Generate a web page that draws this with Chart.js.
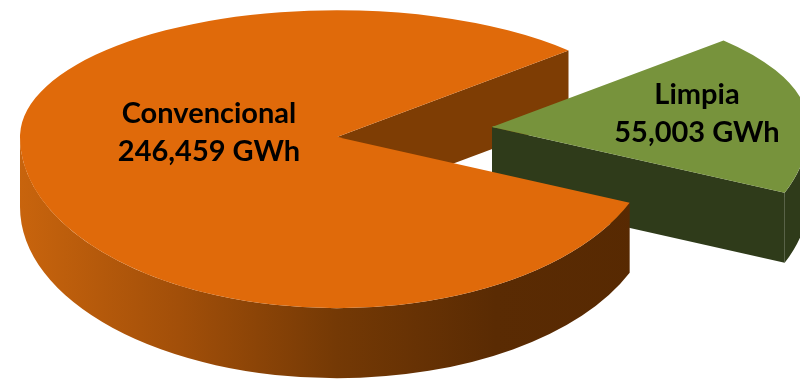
<!DOCTYPE html>
<html>
<head>
<meta charset="utf-8">
<script src="https://cdn.jsdelivr.net/npm/chart.js@4.4.1/dist/chart.umd.min.js"></script>
<style>
  html, body { margin: 0; padding: 0; background: #fff; }
  canvas { display: block; }
</style>
</head>
<body>
<canvas id="pie" width="800" height="379"></canvas>
<script>
// data
const categories = ['Convencional', 'Limpia'];
const generation = [246459, 55003];
const unit = 'GWh';

// look
const topColors  = ['#E06A0A', '#77933C'];
const cutColors  = ['#7E3D04', '#2F3B1A'];
const wallColors = [
  ['#C8640D', '#A24F09', '#743905', '#5A2B03', '#572902'],
  ['#2F3B1A', '#2F3B1A']
];
const explode = [[0, 0], [155, -10]];        // screen px shift of each slice
const labelAnchors = [[209, 123], [697, 104]];
const lineGap = 38;

// fake 3d: far half squashed more than near half
const R = 317, kTop = 0.40, kBot = 0.54, depth = 70;

function project(cx, cy, a, r){
  var sx = Math.cos(a) * r, sy = Math.sin(a) * r;
  return [cx + sx, cy + sy * (sy < 0 ? kTop : kBot)];
}

function center(arc, i){
  return [arc.x + explode[i][0], arc.y + explode[i][1]];
}

function drawCutFaces(ctx, arc, i){
  var c = center(arc, i), cx = c[0], cy = c[1];
  var faces = [];
  if (Math.cos(arc.endAngle) > 0) faces.push(arc.endAngle);
  if (Math.cos(arc.startAngle) < 0) faces.push(arc.startAngle);
  faces.forEach(function(a){
    var p = project(cx, cy, a, arc.outerRadius);
    ctx.beginPath();
    ctx.moveTo(cx, cy);
    ctx.lineTo(p[0], p[1]);
    ctx.lineTo(p[0], p[1] + depth);
    ctx.lineTo(cx, cy + depth);
    ctx.closePath();
    ctx.fillStyle = cutColors[i];
    ctx.fill();
  });
}

function drawOuterWall(ctx, arc, i){
  var c = center(arc, i), cx = c[0], cy = c[1], r = arc.outerRadius;
  var g = ctx.createLinearGradient(cx - r, 0, cx + r, 0);
  var stops = wallColors[i];
  stops.forEach(function(col, j){ g.addColorStop(j / (stops.length - 1), col); });
  [0, Math.PI * 2].forEach(function(base){
    var lo = Math.max(arc.startAngle, base);
    var hi = Math.min(arc.endAngle, base + Math.PI);
    if (hi <= lo) return;
    ctx.beginPath();
    ctx.ellipse(cx, cy, r, r * kBot, 0, lo - base, hi - base, false);
    ctx.ellipse(cx, cy + depth, r, r * kBot, 0, hi - base, lo - base, true);
    ctx.closePath();
    ctx.fillStyle = g;
    ctx.fill();
  });
}

function drawTop(ctx, arc, i){
  var cy = arc.y, cx = arc.x;
  [[kTop, -2000, cy + 1], [kBot, cy - 1, 2000]].forEach(function(h){
    ctx.save();
    ctx.translate(explode[i][0], explode[i][1]);
    ctx.beginPath();
    ctx.rect(-1000, h[1], 3000, h[2] - h[1]);
    ctx.clip();
    ctx.translate(cx, cy);
    ctx.scale(1, h[0]);
    ctx.translate(-cx, -cy);
    arc.draw(ctx);
    ctx.restore();
  });
}

const pie3d = {
  id: 'pie3d',
  beforeDatasetsDraw(chart){
    var ctx = chart.ctx;
    var arcs = chart.getDatasetMeta(0).data;
    // back to front
    drawCutFaces(ctx, arcs[0], 0);
    drawCutFaces(ctx, arcs[1], 1);
    drawOuterWall(ctx, arcs[1], 1);
    drawTop(ctx, arcs[1], 1);
    drawOuterWall(ctx, arcs[0], 0);
    drawTop(ctx, arcs[0], 0);
    return false;
  },
  afterDraw(chart){
    var ctx = chart.ctx;
    ctx.save();
    ctx.font = 'bold 29px Lato';
    ctx.fillStyle = '#000';
    ctx.textAlign = 'center';
    ctx.textBaseline = 'alphabetic';
    labelAnchors.forEach(function(p, i){
      ctx.fillText(categories[i], p[0], p[1]);
      ctx.fillText(generation[i].toLocaleString('en-US') + ' ' + unit, p[0], p[1] + lineGap);
    });
    ctx.restore();
  }
};

new Chart(document.getElementById('pie'), {
  type: 'pie',
  data: {
    labels: categories,
    datasets: [{
      data: generation,
      backgroundColor: topColors,
      borderWidth: 0
    }]
  },
  options: {
    responsive: false,
    animation: false,
    events: [],
    radius: R,
    rotation: 112.6,
    layout: { padding: { left: 0, right: 126, top: 0, bottom: 105 } },
    plugins: {
      legend: { display: false },
      tooltip: { enabled: false }
    }
  },
  plugins: [pie3d]
});
</script>
</body>
</html>
